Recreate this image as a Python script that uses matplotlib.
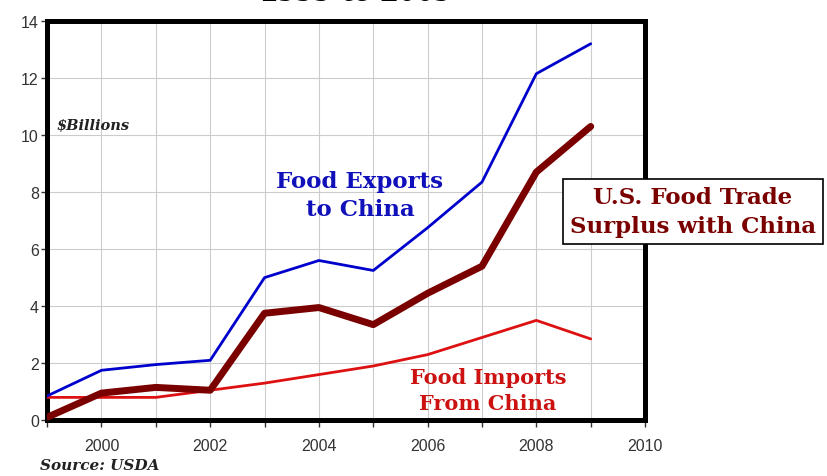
import matplotlib
matplotlib.use('Agg')
import matplotlib.pyplot as plt

years = [1999, 2000, 2001, 2002, 2003, 2004, 2005, 2006, 2007, 2008, 2009]
exports = [0.85, 1.75, 1.95, 2.1, 5.0, 5.6, 5.25, 6.75, 8.35, 12.15, 13.2]
imports = [0.8, 0.8, 0.8, 1.05, 1.3, 1.6, 1.9, 2.3, 2.9, 3.5, 2.85]
surplus = [0.1, 0.95, 1.15, 1.05, 3.75, 3.95, 3.35, 4.45, 5.4, 8.7, 10.3]

x_major = [2000, 2002, 2004, 2006, 2008, 2010]
x_minor = [1999, 2001, 2003, 2005, 2007, 2009]
y_ticks = [0, 2, 4, 6, 8, 10, 12, 14]

serif = 'DejaVu Serif'
plt.rcParams['font.family'] = ['Liberation Sans', 'DejaVu Sans']

fig = plt.figure(figsize=(8.27, 4.77), dpi=100)
ax = fig.add_axes([0.057, 0.117, 0.723, 0.837])

ax.plot(years, imports, color='#dd1111', lw=2.0, solid_capstyle='round', zorder=3)
ax.plot(years, exports, color='#0000cc', lw=2.0, solid_capstyle='round', zorder=4)
ax.plot(years, surplus, color='#7a0000', lw=5.0, solid_capstyle='round',
        solid_joinstyle='round', zorder=5)

ax.set_xlim(1999, 2010)
ax.set_ylim(0, 14)
ax.set_xticks(x_major)
ax.set_xticks(x_minor, minor=True)
ax.set_yticks(y_ticks)
ax.grid(True, which='both', axis='x', color='#cccccc', lw=0.8)
ax.grid(True, which='major', axis='y', color='#cccccc', lw=0.8)
ax.tick_params(axis='x', which='both', direction='out', length=5, width=1,
               pad=8, labelsize=11.5, labelcolor='#333333', color='#333333')
ax.tick_params(axis='y', direction='out', length=4, width=1, pad=2,
               labelsize=11.5, labelcolor='#333333', color='#333333')
for s in ax.spines.values():
    s.set_linewidth(3.6)
    s.set_color('black')

ax.text(0.015, 0.74, '$Billions', transform=ax.transAxes, family=serif,
        fontweight='bold', style='italic', fontsize=10.5, ha='left', va='center',
        color='#222222')
ax.text(0.523, 0.564, 'Food Exports\nto China', transform=ax.transAxes,
        family=serif, fontweight='bold', fontsize=16.5, color='#1010bb',
        ha='center', va='center', linespacing=1.35)
ax.text(0.737, 0.075, 'Food Imports\nFrom China', transform=ax.transAxes,
        family=serif, fontweight='bold', fontsize=15, color='#cc1111',
        ha='center', va='center', linespacing=1.35)

fig.text(0.838, 0.555, 'U.S. Food Trade\nSurplus with China', family=serif,
         fontweight='bold', fontsize=16.5, color='#7a0000', ha='center',
         va='center', linespacing=1.4,
         bbox=dict(boxstyle='square,pad=0.3', fc='white', ec='black', lw=1.2))

fig.text(0.43, 0.997, '1999 to 2009', family='Liberation Serif',
         fontweight='bold', fontsize=26, ha='center', va='baseline',
         color='black')
fig.text(0.048, 0.008, 'Source: USDA', family=serif, fontweight='bold',
         style='italic', fontsize=11, ha='left', va='bottom', color='#222222')

fig.savefig('out.png', dpi=100)
